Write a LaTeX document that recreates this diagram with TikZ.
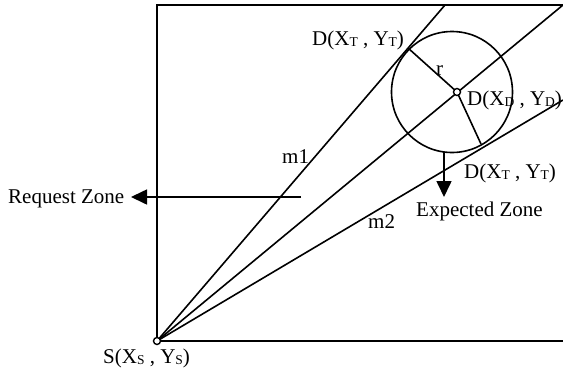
\documentclass[tikz,border=0pt]{standalone}
\usepackage{fontspec}
\setmainfont{Liberation Serif}
\usetikzlibrary{arrows.meta}
\newcommand{\sbx}[1]{\raisebox{-1pt}{\fontsize{13.5}{13.5}\selectfont #1}}
\begin{document}
\begin{tikzpicture}[x=1pt,y=-1pt,
  lbl/.style={font=\fontsize{21}{23}\selectfont, inner sep=0pt},
  ln/.style={line width=1.6pt},
  frame/.style={line width=2.2pt},
  arr/.style={line width=1.6pt,-{Triangle[length=16pt,width=15pt]}},
  dot/.style={circle, draw, fill=white, line width=1.4pt, minimum size=7pt, inner sep=0pt}]
\useasboundingbox (0,0) rectangle (563,368);
% frame
\coordinate (S) at (157,341);
\coordinate (TL) at (157,5);
\coordinate (TR) at (563,5);
\coordinate (BR) at (563,341);
\draw[frame] (TR) -- (TL) -- (S) -- (BR);
% rays
\coordinate (m1end) at (445,5);
\coordinate (midend) at (563,5);
\coordinate (m2end) at (563,100);
\draw[ln] (S) -- (m1end);
\draw[ln] (S) -- (midend);
\draw[ln] (S) -- (m2end);
% circle
\coordinate (C) at (452,92);
\draw[ln] (C) circle (60.5);
\coordinate (Dc) at (457,92);
\coordinate (T1) at (408,48);
\coordinate (T2) at (481,144);
\draw[ln] (T1) -- (Dc) -- (T2);
\node[dot] (dD) at (Dc) {};
\node[dot] (dS) at (S) {};
% arrows
\coordinate (ra) at (301,197);
\coordinate (rb) at (131,197);
\draw[arr] (ra) -- (rb);
\coordinate (ea) at (444,152);
\coordinate (eb) at (444,197);
\draw[arr] (ea) -- (eb);
% labels
\node[lbl, anchor=base west] (lT1) at (312,45) {D(X\sbx{T} , Y\sbx{T})};
\node[lbl, anchor=base west] (lr) at (436,75) {r};
\node[lbl, anchor=base west] (lD) at (467,105) {D(X\sbx{D} , Y\sbx{D})};
\node[lbl, anchor=base west] (lT2) at (464,178) {D(X\sbx{T} , Y\sbx{T})};
\node[lbl, anchor=base west] (lE) at (416,216) {Expected Zone};
\node[lbl, anchor=base west] (lR) at (8,203) {Request Zone};
\node[lbl, anchor=base west] (lm1) at (282,163) {m1};
\node[lbl, anchor=base west] (lm2) at (368,228) {m2};
\node[lbl, anchor=base west] (lS) at (103,363) {S(X\sbx{S} , Y\sbx{S})};
\end{tikzpicture}
\end{document}
